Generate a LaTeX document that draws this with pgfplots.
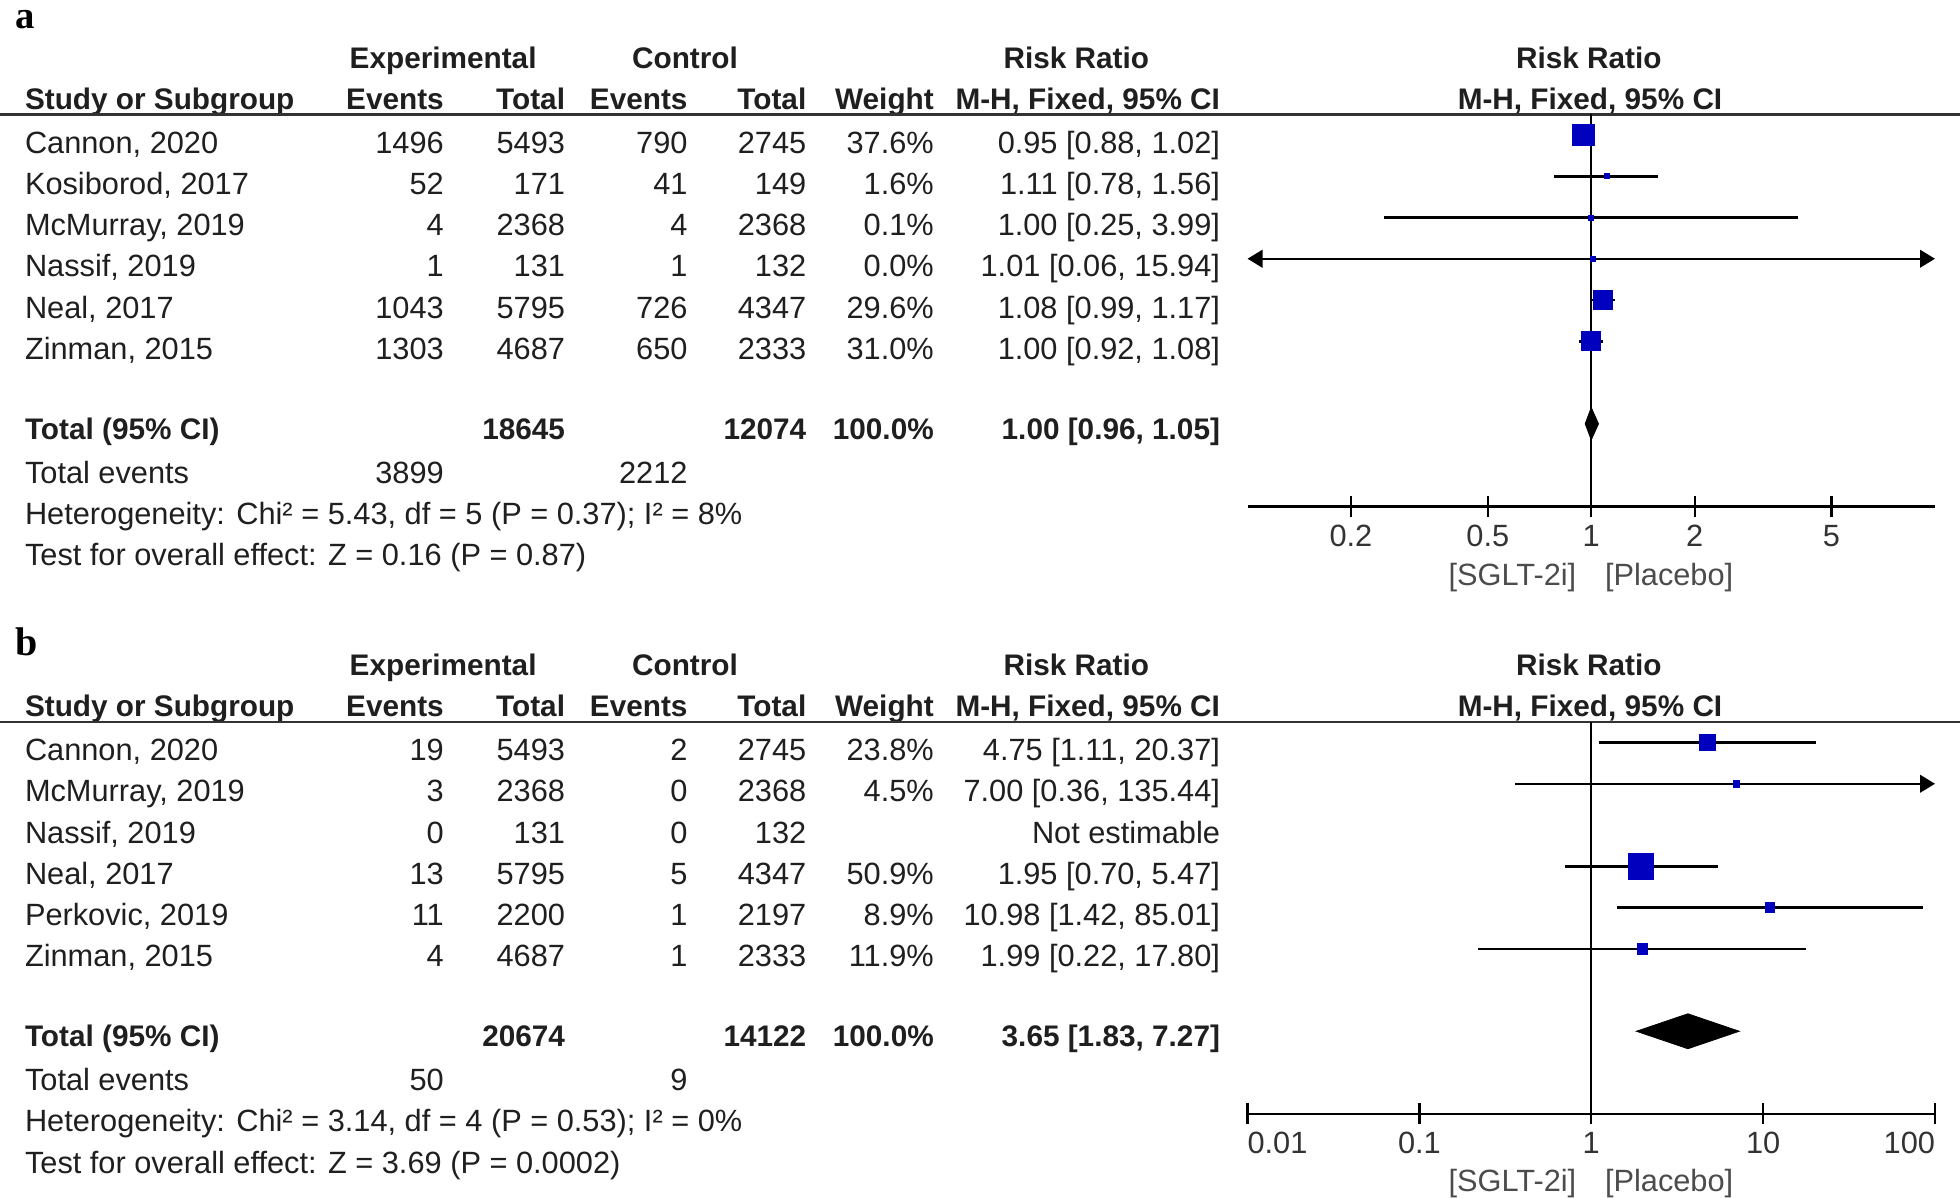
\documentclass[border=0pt]{standalone}
\usepackage{fontspec}
\setmainfont{Liberation Sans}
\newfontfamily\serifb{Liberation Serif}
\usepackage{pgfplots}
\pgfplotsset{compat=1.18}
\usetikzlibrary{arrows.meta}
\definecolor{rvblue}{RGB}{0,0,190}
\newcommand{\rf}{\fontsize{12.3}{14}\selectfont}
\newcommand{\hf}{\fontsize{11.9}{14}\selectfont\bfseries}
\pgfplotsset{rvforest/.style={
  scale only axis, width=275pt, height=156.75pt,
  axis x line*=bottom, axis y line=none,
  xminorticks=false, tick align=center, major tick length=8.5pt,
  every tick/.style={black, line width=0.9pt},
  x axis line style={black, line width=1pt},
  xticklabel style={font=\rf, text=black!80, anchor=base, yshift=-11.75pt},
  clip=false}}
% one study row: baseline, name, exp events, exp total, ctrl events, ctrl total, weight, RR [CI]
\newcommand{\srow}[8]{%
  \node[anchor=base west] at (20,-#1) {\rf #2};
  \node[anchor=base east] at (355,-#1) {\rf #3};
  \node[anchor=base east] at (452,-#1) {\rf #4};
  \node[anchor=base east] at (550,-#1) {\rf #5};
  \node[anchor=base east] at (645,-#1) {\rf #6};
  \node[anchor=base east] at (747,-#1) {\rf #7};
  \node[anchor=base east] at (976,-#1) {\rf #8};}
% headers at baseline #1 (first line), #2 (second line), rule at #3
\newcommand{\heads}[3]{%
  \node[anchor=base] at (354.5,-#1) {\hf Experimental};
  \node[anchor=base] at (548,-#1) {\hf Control};
  \node[anchor=base] at (861,-#1) {\hf Risk Ratio};
  \node[anchor=base] at (1271,-#1) {\hf Risk Ratio};
  \node[anchor=base west] at (20,-#2) {\hf Study or Subgroup};
  \node[anchor=base east] at (355,-#2) {\hf Events};
  \node[anchor=base east] at (452,-#2) {\hf Total};
  \node[anchor=base east] at (550,-#2) {\hf Events};
  \node[anchor=base east] at (645,-#2) {\hf Total};
  \node[anchor=base east] at (747,-#2) {\hf Weight};
  \node[anchor=base east] at (976,-#2) {\hf M-H, Fixed, 95\% CI};
  \node[anchor=base] at (1272,-#2) {\hf M-H, Fixed, 95\% CI};
  \draw[black!80, line width=1.1pt] (0,-#3) -- (1568,-#3);}
\begin{document}
\begin{tikzpicture}[x=0.5pt,y=0.5pt, every node/.style={inner sep=0pt, outer sep=0pt, text=black!88}]
\useasboundingbox (0,0) rectangle (1568,-958);

% ================= panel a =================
\node[anchor=base west, text=black] at (12,-23) {\serifb\fontsize{15.5}{17}\selectfont\bfseries a};
\heads{54.5}{87.5}{91.5}
\srow{122.5}{Cannon, 2020}{1496}{5493}{790}{2745}{37.6\%}{0.95 [0.88, 1.02]}
\srow{155.5}{Kosiborod, 2017}{52}{171}{41}{149}{1.6\%}{1.11 [0.78, 1.56]}
\srow{188.5}{McMurray, 2019}{4}{2368}{4}{2368}{0.1\%}{1.00 [0.25, 3.99]}
\srow{221.5}{Nassif, 2019}{1}{131}{1}{132}{0.0\%}{1.01 [0.06, 15.94]}
\srow{254.5}{Neal, 2017}{1043}{5795}{726}{4347}{29.6\%}{1.08 [0.99, 1.17]}
\srow{287.5}{Zinman, 2015}{1303}{4687}{650}{2333}{31.0\%}{1.00 [0.92, 1.08]}
\node[anchor=base west] at (20,-351.5) {\hf Total (95\% CI)};
\node[anchor=base east] at (452,-351.5) {\hf 18645};
\node[anchor=base east] at (645,-351.5) {\hf 12074};
\node[anchor=base east] at (747,-351.5) {\hf 100.0\%};
\node[anchor=base east] at (976,-351.5) {\hf 1.00 [0.96, 1.05]};
\node[anchor=base west] at (20,-386.5) {\rf Total events};
\node[anchor=base east] at (355,-386.5) {\rf 3899};
\node[anchor=base east] at (550,-386.5) {\rf 2212};
\node[anchor=base west] at (20,-419.5) {\rf Heterogeneity: Chi² = 5.43, df = 5 (P = 0.37); I² = 8\%};
\node[anchor=base west] at (20,-452.5) {\rf Test for overall effect: Z = 0.16 (P = 0.87)};
\node[anchor=base east, text=black!70] at (1261,-468) {\rf [SGLT-2i]};
\node[anchor=base west, text=black!70] at (1284,-468) {\rf [Placebo]};

\begin{axis}[rvforest, xmode=log, at={(499pt,-202.5pt)}, anchor=south west,
  xmin=0.1, xmax=10, ymin=-405, ymax=-91.5,
  xtick={0.2,0.5,1,2,5}, xticklabels={0.2,0.5,1,2,5}]
  \addplot[black, line width=0.9pt] coordinates {(1,-91.5) (1,-405)};
  % confidence intervals
  \addplot[black, line width=1pt] coordinates {(0.88,-108) (1.02,-108)};
  \addplot[black, line width=1pt] coordinates {(0.78,-141) (1.56,-141)};
  \addplot[black, line width=1pt] coordinates {(0.25,-174) (3.99,-174)};
  % Nassif: 0.06 to 15.94, beyond the axis on both sides
  \addplot[black, line width=1pt, {Triangle[length=6pt,width=7pt]}-{Triangle[length=6pt,width=7pt]}] coordinates {(0.1,-207) (10,-207)};
  \addplot[black, line width=1pt] coordinates {(0.99,-240) (1.17,-240)};
  \addplot[black, line width=1pt] coordinates {(0.92,-273) (1.08,-273)};
  % point estimates
  \addplot[only marks, mark=square*, color=rvblue, mark size=4.25pt] coordinates {(0.95,-108)};
  \addplot[only marks, mark=square*, color=rvblue, mark size=1pt] coordinates {(1.11,-141)};
  \addplot[only marks, mark=square*, color=rvblue, mark size=1pt] coordinates {(1.00,-174)};
  \addplot[only marks, mark=square*, color=rvblue, mark size=1pt] coordinates {(1.01,-207)};
  \addplot[only marks, mark=square*, color=rvblue, mark size=3.75pt] coordinates {(1.08,-240)};
  \addplot[only marks, mark=square*, color=rvblue, mark size=3.8pt] coordinates {(1.00,-273)};
  % pooled estimate
  \addplot[fill=black, draw=black, line width=0.3pt] coordinates {(0.96,-339) (1.00,-326) (1.05,-339) (1.00,-352)} -- cycle;
\end{axis}

% ================= panel b =================
\node[anchor=base west, text=black] at (12,-524) {\serifb\fontsize{16}{17}\selectfont\bfseries b};
\heads{540.5}{573.5}{577.5}
\srow{608.5}{Cannon, 2020}{19}{5493}{2}{2745}{23.8\%}{4.75 [1.11, 20.37]}
\srow{641.5}{McMurray, 2019}{3}{2368}{0}{2368}{4.5\%}{7.00 [0.36, 135.44]}
\srow{674.5}{Nassif, 2019}{0}{131}{0}{132}{}{Not estimable}
\srow{707.5}{Neal, 2017}{13}{5795}{5}{4347}{50.9\%}{1.95 [0.70, 5.47]}
\srow{740.5}{Perkovic, 2019}{11}{2200}{1}{2197}{8.9\%}{10.98 [1.42, 85.01]}
\srow{773.5}{Zinman, 2015}{4}{4687}{1}{2333}{11.9\%}{1.99 [0.22, 17.80]}
\node[anchor=base west] at (20,-837.5) {\hf Total (95\% CI)};
\node[anchor=base east] at (452,-837.5) {\hf 20674};
\node[anchor=base east] at (645,-837.5) {\hf 14122};
\node[anchor=base east] at (747,-837.5) {\hf 100.0\%};
\node[anchor=base east] at (976,-837.5) {\hf 3.65 [1.83, 7.27]};
\node[anchor=base west] at (20,-872.5) {\rf Total events};
\node[anchor=base east] at (355,-872.5) {\rf 50};
\node[anchor=base east] at (550,-872.5) {\rf 9};
\node[anchor=base west] at (20,-905.5) {\rf Heterogeneity: Chi² = 3.14, df = 4 (P = 0.53); I² = 0\%};
\node[anchor=base west] at (20,-938.5) {\rf Test for overall effect: Z = 3.69 (P = 0.0002)};
\node[anchor=base east, text=black!70] at (1261,-953) {\rf [SGLT-2i]};
\node[anchor=base west, text=black!70] at (1284,-953) {\rf [Placebo]};

\begin{axis}[rvforest, xmode=log, at={(499pt,-445.5pt)}, anchor=south west,
  xmin=0.01, xmax=100, ymin=-891, ymax=-577.5,
  xtick={0.01,0.1,1,10,100},
  xticklabels={\makebox[0pt][l]{0.01},0.1,1,10,\makebox[0pt][r]{100}}]
  \addplot[black, line width=0.7pt] coordinates {(1,-577.5) (1,-891)};
  % confidence intervals
  \addplot[black, line width=1pt] coordinates {(1.11,-594) (20.37,-594)};
  % McMurray: 0.36 to 135.44, beyond the axis on the right
  \addplot[black, line width=1pt, -{Triangle[length=6pt,width=7pt]}] coordinates {(0.36,-627) (100,-627)};
  \addplot[black, line width=1pt] coordinates {(0.70,-693) (5.47,-693)};
  \addplot[black, line width=1pt] coordinates {(1.42,-726) (85.01,-726)};
  \addplot[black, line width=1pt] coordinates {(0.22,-759) (17.80,-759)};
  % point estimates
  \addplot[only marks, mark=square*, color=rvblue, mark size=3.25pt] coordinates {(4.75,-594)};
  \addplot[only marks, mark=square*, color=rvblue, mark size=1.3pt] coordinates {(7.00,-627)};
  \addplot[only marks, mark=square*, color=rvblue, mark size=5.1pt] coordinates {(1.95,-693)};
  \addplot[only marks, mark=square*, color=rvblue, mark size=1.9pt] coordinates {(10.98,-726)};
  \addplot[only marks, mark=square*, color=rvblue, mark size=2.15pt] coordinates {(1.99,-759)};
  % pooled estimate
  \addplot[fill=black, draw=black, line width=0.3pt] coordinates {(1.83,-825) (3.65,-811) (7.27,-825) (3.65,-839)} -- cycle;
\end{axis}
\end{tikzpicture}
\end{document}
